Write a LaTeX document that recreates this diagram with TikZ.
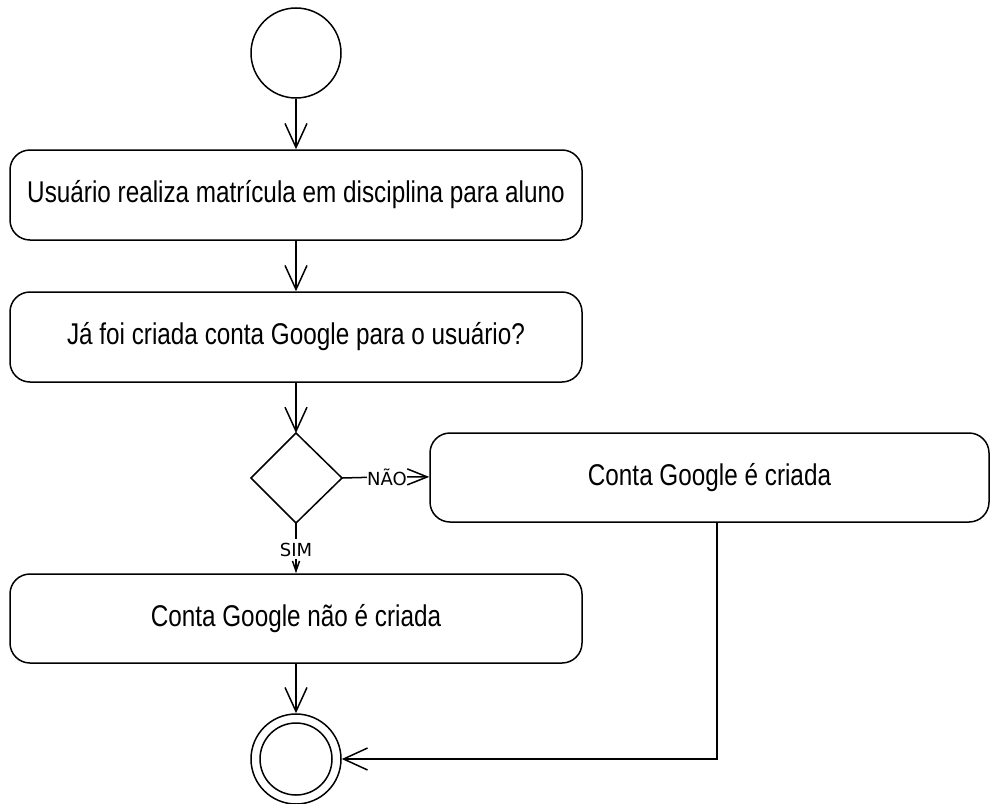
\documentclass[tikz,border=0pt]{standalone}
\usepackage{fontspec}
\setmainfont{Liberation Sans}[FakeStretch=0.81]
\newfontfamily\lblfont{DejaVu Sans}
\usetikzlibrary{arrows.meta,shapes.geometric}
\begin{document}
\begin{tikzpicture}[x=1pt,y=-1pt,
  act/.style={draw,line width=1.5pt,rounded corners=20pt,font=\fontsize{30}{34}\selectfont},
  flow/.style={line width=1.5pt,-{Straight Barb[length=24pt,width=22pt,line width=1.5pt]}},
  shortflow/.style={line width=1.5pt,-{Straight Barb[length=20pt,width=16pt,line width=1.5pt]}},
  tinyflow/.style={line width=1.5pt,-{Straight Barb[length=10pt,width=7pt,line width=1.5pt]}},
  plain/.style={line width=1.5pt},
  lbl/.style={font=\lblfont\fontsize{18}{20}\selectfont,inner xsep=0pt,inner ysep=3pt}]
\useasboundingbox (0,0) rectangle (992,803);
\node[draw,circle,line width=1.5pt,minimum size=90pt,inner sep=0pt] (start) at (296,53) {};
\node[act,minimum width=572pt,minimum height=90pt] (a1) at (296,195) {Usuário realiza matrícula em disciplina para aluno};
\node[act,minimum width=572pt,minimum height=90pt] (a2) at (296,337) {Já foi criada conta Google para o usuário?};
\draw[plain] (296,433) coordinate (dt) -- (342,478) coordinate (dr) -- (296,523) coordinate (db) -- (251,478) coordinate (dl) -- cycle;
\coordinate (dec) at (296,478);
\node[act,minimum width=559pt,minimum height=89pt] (a3) at (709.5,477.5) {Conta Google é criada};
\node[act,minimum width=572pt,minimum height=89pt] (a4) at (296,618.5) {Conta Google não é criada};
\node[draw,circle,line width=1.5pt,minimum size=90pt,inner sep=0pt] (end) at (296,759) {};
\node[draw,circle,line width=1.5pt,minimum size=72pt,inner sep=0pt] (endin) at (296,759) {};
\node[lbl,anchor=base] (nao) at (387,485) {NÃO};
\node[lbl,anchor=base] (sim) at (296,556) {SIM};
\draw[flow] (start) -- (a1);
\draw[flow] (a1) -- (a2);
\draw[flow] (a2) -- (dt);
\draw[plain] (dr) -- (nao);
\draw[shortflow] (nao) -- (a3);
\draw[plain] (db) -- (sim);
\draw[tinyflow] (sim) -- (a4);
\draw[flow] (a4) -- (end);
\draw[flow] (a3.south -| 717,0) |- (end);
\end{tikzpicture}
\end{document}
